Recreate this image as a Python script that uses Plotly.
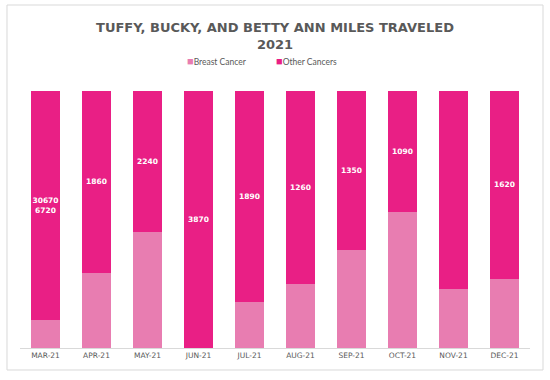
import plotly.graph_objects as go

months = ["MAR-21", "APR-21", "MAY-21", "JUN-21", "JUL-21", "AUG-21",
          "SEP-21", "OCT-21", "NOV-21", "DEC-21"]
breast_cancer = [3750, 770, 1830, 0, 415, 415, 830, 1220, 450, 595]
other_cancers = [30670, 1860, 2240, 3870, 1890, 1260, 1350, 1090, 1500, 1620]
other_labels = ["30670<br>6720", "1860", "2240", "3870", "1890", "1260",
                "1350", "1090", "", "1620"]
series_names = ["Breast Cancer", "Other Cancers"]

BREAST = "#E87DB1"
OTHER = "#E91F85"
GREY = "#595959"

fig = go.Figure()
fig.add_trace(go.Bar(
    x=months, y=breast_cancer, name=series_names[0],
    marker=dict(color=BREAST, line=dict(width=0)), showlegend=False,
))
fig.add_trace(go.Bar(
    x=months, y=other_cancers, name=series_names[1],
    marker=dict(color=OTHER, line=dict(width=0)), showlegend=False,
    text=other_labels, textposition="inside", insidetextanchor="middle",
    textangle=0, constraintext="none",
    textfont=dict(color="white", size=7.5, family="DejaVu Sans", weight="bold"),
))

# legend drawn as text annotations (small square + label, like the original)
legend_ann = []
for name, col, xpos in [(series_names[0], BREAST, 0.323), (series_names[1], OTHER, 0.499)]:
    legend_ann.append(dict(
        text=f"<span style='color:{col};font-size:11px'>■</span>{name}",
        xref="paper", yref="paper", x=xpos, y=(348 - 61) / 257,
        xanchor="left", yanchor="middle", showarrow=False,
        font=dict(family="Lato", size=8.5, color=GREY),
    ))

fig.update_layout(
    barmode="stack", barnorm="percent", bargap=0.43,
    width=550, height=380,
    margin=dict(l=20, r=20, t=91, b=32),
    paper_bgcolor="white", plot_bgcolor="white",
    title=dict(
        text="TUFFY, BUCKY, AND BETTY ANN MILES TRAVELED<br>2021",
        x=0.5, xanchor="center", y=1 - 32 / 380, yanchor="top",
        font=dict(family="DejaVu Sans", size=13, color=GREY, weight="bold"),
    ),
    showlegend=False,
    annotations=legend_ann,
    xaxis=dict(
        showline=True, linecolor="#D9D9D9", linewidth=1,
        ticks="", tickfont=dict(family="DejaVu Sans", size=7.5, color=GREY),
        showgrid=False,
    ),
    yaxis=dict(visible=False, range=[0, 100], showgrid=False),
    shapes=[dict(
        type="rect", xref="paper", yref="paper",
        x0=-0.0255, x1=1.0255, y0=-0.0856, y1=1.3346,
        line=dict(color="#D9D9D9", width=1), fillcolor="rgba(0,0,0,0)",
        layer="below",
    )],
)

fig.write_html("out.html", config={"displayModeBar": False},
               post_script="document.body.style.margin='0px';")
